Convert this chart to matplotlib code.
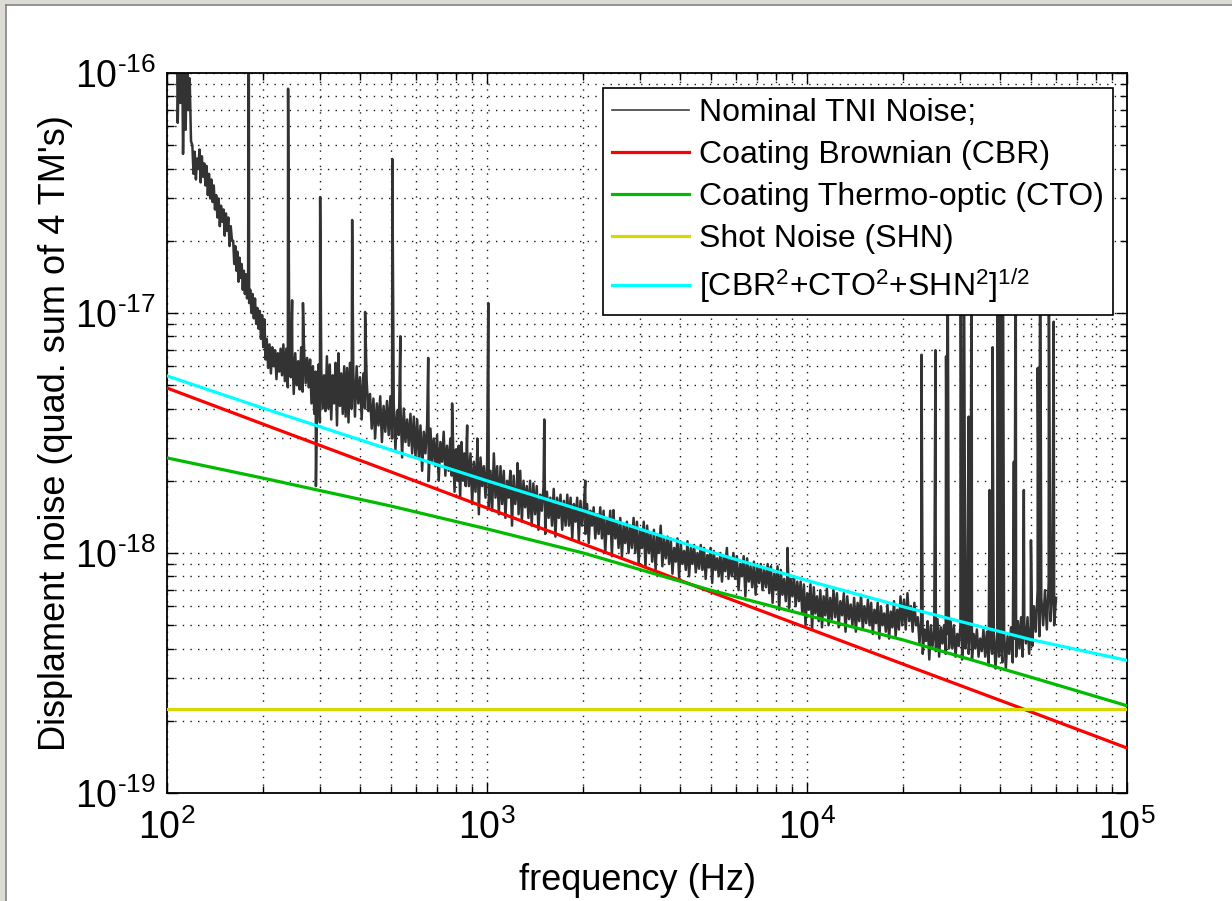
import numpy as np
import matplotlib
matplotlib.use('Agg')
import matplotlib.pyplot as plt
from matplotlib.lines import Line2D
from matplotlib.patches import Rectangle
from matplotlib.ticker import NullFormatter, FuncFormatter

plt.rcParams['font.family'] = ['Liberation Sans', 'DejaVu Sans']
plt.rcParams['mathtext.fontset'] = 'custom'
plt.rcParams['mathtext.rm'] = 'Liberation Sans'
plt.rcParams['mathtext.it'] = 'Liberation Sans:italic'
plt.rcParams['mathtext.bf'] = 'Liberation Sans:bold'
plt.rcParams['axes.unicode_minus'] = False

# ---------------- data (noise amplitudes in units of 1e-18 m) ----------------
model_hz = [1e2, 2e2, 5e2, 1e3, 2e3, 5e3, 1e4, 2e4, 5e4, 1e5]
cbr = [4.87, 3.44, 2.18, 1.54, 1.09, 0.689, 0.487, 0.344, 0.218, 0.154]
cto = [2.49, 2.05, 1.57, 1.26, 1.00, 0.70, 0.55, 0.434, 0.304, 0.231]
shn = [0.224, 0.224, 0.224, 0.224, 0.224, 0.224, 0.224, 0.224, 0.224, 0.224]
quad = [5.47, 4.01, 2.69, 2.00, 1.50, 1.01, 0.768, 0.597, 0.436, 0.357]

# measured TNI spectrum: (start Hz, end Hz, values read across the band)
tni_segments = [
    (107, 120, [250, 62, 130, 75, 200, 46, 110, 58, 160, 70, 95, 52]),
    (120, 133, [50, 38, 47, 36, 44, 40, 48, 35, 45, 37, 42, 34]),
    (133, 140, [41, 31, 38, 30, 36, 29]),
    (140, 161, [34, 27, 31, 25, 30, 23, 28, 24, 27, 21, 26, 22, 25, 19, 23, 20]),
    (161, 182, [20, 16, 19, 15, 18, 13.5, 17, 14, 16, 12.5, 15, 12, 14.5, 11.5, 13, 11]),
    (182, 195, [12.5, 10, 12, 9.5, 11.5, 9, 10.5, 8.6]),
    (195, 205, [10.2, 7.8, 9.8, 7.2, 9.4, 6.4]),
    (205, 231, [7.8, 5.9, 7.4, 5.6, 7.2, 6.0, 7.0, 5.3, 6.8, 5.7, 7.1, 5.5]),
    (231, 280, [7.4, 5.2, 7.1, 4.9, 6.6, 5.4, 7.0, 4.6, 6.8, 5.0, 6.3, 4.8, 7.2, 4.7,
                6.9, 5.1, 6.5, 4.9]),
    (280, 316, [6.4, 4.2, 6.0, 3.8, 5.7, 4.4, 6.1, 3.5, 5.8, 4.0, 5.5, 3.9]),
    (316, 373, [6.6, 4.0, 6.1, 3.6, 5.5, 4.2, 6.2, 3.4, 6.8, 4.1, 5.6, 3.8, 6.0, 3.7,
                5.9, 3.5]),
    (373, 431, [6.2, 4.0, 5.7, 3.7, 6.0, 4.2, 5.4, 3.6, 5.6, 4.0, 5.2, 3.9]),
    (431, 499, [4.6, 3.3, 4.4, 3.0, 4.2, 3.4, 4.5, 2.9, 4.1, 3.2, 4.3, 3.1]),
    (499, 605, [4.5, 3.0, 4.2, 2.7, 3.9, 3.1, 4.2, 2.5, 4.0, 2.9, 3.6, 2.8, 3.8, 2.6,
                3.7, 2.5]),
    (605, 768, [3.6, 2.5, 3.4, 2.2, 3.2, 2.6, 3.4, 2.0, 3.3, 2.4, 3.0, 2.3, 3.1, 2.0,
                2.9, 2.4, 3.2, 2.1, 2.8, 2.2]),
    (768, 867, [3.0, 2.1, 2.8, 1.8, 2.7, 2.0, 2.8, 1.7, 2.9, 2.0, 2.6, 1.9]),
    (867, 1102, [2.7, 1.9, 2.6, 1.6, 2.4, 1.8, 2.6, 1.45, 2.5, 1.9, 2.3, 1.7, 2.4, 1.55,
                 2.2, 1.5, 2.6, 1.7, 2.3, 1.45]),
    (1102, 1396, [2.3, 1.6, 2.2, 1.4, 2.0, 1.7, 2.2, 1.3, 2.1, 1.6, 1.9, 1.45, 2.2, 1.35,
                  2.0, 1.55, 1.9, 1.4, 2.0, 1.3]),
    (1396, 1782, [1.95, 1.45, 1.9, 1.25, 1.75, 1.5, 1.9, 1.2, 1.8, 1.4, 1.7, 1.3, 1.85,
                  1.17, 1.7, 1.4, 1.75, 1.25, 1.65, 1.3]),
    (1782, 2259, [1.75, 1.3, 1.7, 1.15, 1.6, 1.35, 1.7, 1.12, 1.65, 1.3, 1.55, 1.2, 1.6,
                  1.1, 1.5, 1.3, 1.55, 1.15, 1.45, 1.2]),
    (2259, 2871, [1.55, 1.15, 1.5, 1.0, 1.4, 1.2, 1.5, 0.97, 1.45, 1.15, 1.35, 1.05, 1.4,
                  0.96, 1.3, 1.1, 1.35, 1.0, 1.3, 1.05]),
    (2871, 3664, [1.4, 1.0, 1.35, 0.9, 1.25, 1.05, 1.35, 0.87, 1.3, 1.0, 1.2, 0.92, 1.25,
                  0.85, 1.2, 1.0, 1.3, 0.88, 1.15, 0.95]),
    (3664, 4656, [1.17, 0.9, 1.15, 0.82, 1.05, 0.92, 1.15, 0.79, 1.1, 0.9, 1.02, 0.85,
                  1.12, 0.8, 1.05, 0.9, 1.08, 0.83, 1.0, 0.86]),
    (4656, 5888, [1.08, 0.85, 1.05, 0.78, 0.98, 0.87, 1.05, 0.75, 1.02, 0.85, 0.95, 0.8,
                  1.0, 0.76, 0.96, 0.84, 1.05, 0.78, 0.94, 0.8]),
    (5888, 7534, [1.0, 0.78, 0.97, 0.7, 0.9, 0.8, 0.97, 0.66, 0.95, 0.76, 0.88, 0.72,
                  0.92, 0.67, 0.88, 0.75, 0.9, 0.7, 0.85, 0.72]),
    (7534, 9550, [0.9, 0.68, 0.88, 0.62, 0.82, 0.7, 0.88, 0.58, 0.85, 0.67, 0.78, 0.63,
                  0.82, 0.59, 0.78, 0.66, 0.8, 0.6, 0.76, 0.63]),
    (9550, 12100, [0.76, 0.56, 0.74, 0.5, 0.68, 0.58, 0.74, 0.48, 0.72, 0.56, 0.66, 0.52,
                   0.7, 0.49, 0.66, 0.55, 0.71, 0.5, 0.65, 0.53]),
    (12100, 15500, [0.7, 0.54, 0.68, 0.49, 0.63, 0.55, 0.68, 0.47, 0.66, 0.53, 0.61, 0.5,
                    0.65, 0.47, 0.62, 0.52, 0.67, 0.48, 0.6, 0.51]),
    (15500, 19600, [0.64, 0.5, 0.62, 0.46, 0.58, 0.51, 0.62, 0.44, 0.6, 0.5, 0.56, 0.47,
                    0.61, 0.44, 0.57, 0.49, 0.63, 0.45, 0.58, 0.48]),
    (19600, 22200, [0.66, 0.5, 0.64, 0.48, 0.68, 0.52, 0.6, 0.47, 0.62, 0.5]),
    (22200, 28100, [0.54, 0.42, 0.52, 0.38, 0.48, 0.43, 0.52, 0.36, 0.5, 0.41, 0.47, 0.39,
                    0.53, 0.37, 0.49, 0.42, 0.5, 0.38, 0.46, 0.4]),
    (28100, 35600, [0.52, 0.4, 0.5, 0.37, 0.46, 0.41, 0.5, 0.36, 0.49, 0.4, 0.45, 0.38,
                    0.5, 0.36, 0.46, 0.4, 0.48, 0.37, 0.44, 0.39]),
    (35600, 45600, [0.48, 0.37, 0.47, 0.34, 0.44, 0.38, 0.47, 0.33, 0.46, 0.37, 0.43, 0.35,
                    0.47, 0.33, 0.45, 0.38, 0.49, 0.35, 0.44, 0.37]),
    (45600, 51200, [0.52, 0.4, 0.54, 0.37, 0.5, 0.42, 0.54, 0.38, 0.5, 0.41]),
    (51200, 60800, [0.6, 0.47, 0.7, 0.45, 0.65, 0.5, 0.7, 0.48, 0.75, 0.52, 0.68, 0.5, 0.65]),
]

# narrow lines / spikes in the TNI spectrum
spike_hz = [180, 239, 246, 266, 292, 301, 379, 416, 506, 536, 655, 778, 867, 933,
            1009, 1245, 1510, 2028, 2483, 8690,
            22800, 25200, 27200, 27500, 30200, 30900, 32000, 32700, 37200, 38000,
            39400, 40200, 40900, 44300, 44900, 47600, 50100, 52600, 53500, 57000, 59000]
spike_val = [300, 86, 11.3, 11.0, 1.9, 30.4, 24.4, 10.1, 43.8, 8.0, 6.5, 4.2, 3.4, 3.0,
             11.0, 2.37, 3.6, 2.0, 1.51, 1.05,
             6.7, 7.0, 6.6, 25, 40, 30, 3.7, 20, 1.83, 7.2,
             50, 40, 35, 2.4, 25, 1.83, 1.13, 5.9, 30, 12, 9.2]

legend_labels = ['Nominal TNI Noise;', 'Coating Brownian (CBR)',
                 'Coating Thermo-optic (CTO)', 'Shot Noise (SHN)',
                 '[CBR$^2$+CTO$^2$+SHN$^2$]$^{1/2}$']
colors = ['#333333', '#ff0000', '#00bb00', '#d8d800', '#00ffff']
UNIT = 1e-18

# ---------------- assemble TNI trace ----------------
hz, val = [], []
for f0, f1, vals in tni_segments:
    hz.extend(np.geomspace(f0, f1, len(vals), endpoint=False))
    val.extend(vals)
hz.extend(spike_hz)
val.extend(spike_val)
order = np.argsort(hz)
tni_hz = np.asarray(hz)[order]
tni_val = np.asarray(val)[order] * UNIT

# ---------------- figure ----------------
W, H = 1232, 901
fig = plt.figure(figsize=(W / 100, H / 100), dpi=100)
fig.patch.set_facecolor('white')
# window-like gray frame on the left and top
fig.patches.append(Rectangle((0, 0), 5 / W, 1, transform=fig.transFigure,
                             facecolor='#dcdcd4', edgecolor='none', zorder=0))
fig.patches.append(Rectangle((0, 1 - 4 / H), 1, 4 / H, transform=fig.transFigure,
                             facecolor='#dcdcd4', edgecolor='none', zorder=0))
fig.lines.append(Line2D([5.5 / W, 5.5 / W], [0, 1 - 4.5 / H], transform=fig.transFigure,
                        color='#808080', lw=1.2))
fig.lines.append(Line2D([5.5 / W, 1], [1 - 4.5 / H, 1 - 4.5 / H], transform=fig.transFigure,
                        color='#808080', lw=1.2))

ax = fig.add_axes([167 / W, 1 - 793 / H, 960 / W, 720 / H])
ax.set_xscale('log')
ax.set_yscale('log')

h_tni, = ax.plot(tni_hz, tni_val, color=colors[0], lw=1.8, zorder=2)
h_cbr, = ax.plot(model_hz, np.array(cbr) * UNIT, color=colors[1], lw=2.3, zorder=3)
h_cto, = ax.plot(model_hz, np.array(cto) * UNIT, color=colors[2], lw=2.3, zorder=3)
h_shn, = ax.plot(model_hz, np.array(shn) * UNIT, color=colors[3], lw=2.3, zorder=3)
h_sum, = ax.plot(model_hz, np.array(quad) * UNIT, color=colors[4], lw=2.3, zorder=3)

ax.set_xlim(1e2, 1e5)
ax.set_ylim(1e-19, 1e-16)


def pow10(v, pos):
    k = int(round(np.log10(v)))
    if k < 0:
        return r'$\mathdefault{10^{\text{-%d}}}$' % (-k)
    return r'$\mathdefault{10^{%d}}$' % k


ax.xaxis.set_major_formatter(FuncFormatter(pow10))
ax.yaxis.set_major_formatter(FuncFormatter(pow10))
ax.xaxis.set_minor_formatter(NullFormatter())
ax.yaxis.set_minor_formatter(NullFormatter())

ax.grid(True, which='both', linestyle=(0, (1, 4.5)), linewidth=1.0, color='black', alpha=0.9)
ax.set_axisbelow(True)
ax.tick_params(which='both', direction='in', top=True, right=True, color='black')
ax.tick_params(which='major', length=8, width=1.0, labelsize=27)
ax.tick_params(axis='x', which='major', pad=12)
ax.tick_params(axis='y', which='major', pad=8)
ax.tick_params(which='minor', length=5, width=1.0)
for s in ax.spines.values():
    s.set_linewidth(1.3)
    s.set_color('black')

ax.set_xlabel('frequency (Hz)', fontsize=26)
ax.set_ylabel("Displament noise (quad. sum of 4 TM's)", fontsize=26)
ax.xaxis.set_label_coords(0.49, -0.097)
ax.yaxis.set_label_coords(-0.098, 0.5)

h_tni_leg = Line2D([], [], color='#404040', lw=1.2)
leg = ax.legend([h_tni_leg, h_cbr, h_cto, h_shn, h_sum], legend_labels,
                loc='upper right', bbox_to_anchor=(0.9854, 0.979), fontsize=23,
                frameon=True, fancybox=False, edgecolor='black', framealpha=1,
                borderpad=0.3, labelspacing=0.38, handlelength=2.4,
                handletextpad=0.3, borderaxespad=0)
leg.get_frame().set_linewidth(1.2)
leg.set_zorder(5)

fig.savefig('out.png', dpi=100, facecolor=fig.get_facecolor())
